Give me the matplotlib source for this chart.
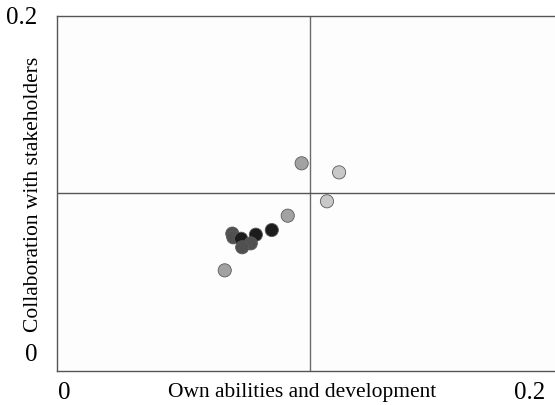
import matplotlib
matplotlib.use("Agg")
import matplotlib.pyplot as plt

plt.rcParams['font.family'] = ['Liberation Serif', 'DejaVu Serif']

# values
own_abilities = [0.0967, 0.1115, 0.1067, 0.0912, 0.0849, 0.0786,
                 0.0693, 0.0697, 0.0728, 0.0766, 0.0732, 0.0663]
collaboration = [0.1170, 0.1119, 0.0956, 0.0875, 0.0794, 0.0768,
                 0.0774, 0.0753, 0.0745, 0.0719, 0.0697, 0.0567]
shade = ['mid', 'light', 'light', 'mid', 'black', 'black',
         'dark', 'dark', 'black', 'dark', 'dark', 'mid']
shade_colors = {'light': '#c8c8c8', 'mid': '#a2a2a2', 'dark': '#505050', 'black': '#1c1c1c'}

fig = plt.figure(figsize=(5.55, 4.05), dpi=100)
ax = fig.add_axes([0.1027, 0.084, 0.9117, 0.8765])
ax.set_facecolor('#fdfdfd')
ax.set_xlim(0, 0.2)
ax.set_ylim(0, 0.2)

ax.axvline(0.1, color='#6a6a6a', lw=1, zorder=1)
ax.axhline(0.1, color='#555555', lw=1, zorder=1)

ax.scatter(own_abilities, collaboration, s=90,
           c=[shade_colors[s] for s in shade],
           edgecolors='#5a5a5a', linewidths=0.6, zorder=3)

for sp in ax.spines.values():
    sp.set_color('#555555')
    sp.set_linewidth(1)
ax.set_xticks([])
ax.set_yticks([])

# corner labels
fig.text(22/555, 1 - 18/405, '0.2', fontsize=18, ha='center', va='center')
fig.text(31/555, 1 - 355/405, '0', fontsize=18, ha='center', va='center')
fig.text(64/555, 1 - 393/405, '0', fontsize=18, ha='center', va='center')
fig.text(530/555, 1 - 393/405, '0.2', fontsize=18, ha='center', va='center')

fig.text(302/555, 1 - 393/405, 'Own abilities and development', fontsize=15.5,
         ha='center', va='center')
fig.text(34/555, 1 - 194/405, 'Collaboration with stakeholders', fontsize=15.5,
         ha='center', va='center', rotation=90)

fig.savefig('out.png', dpi=100)
